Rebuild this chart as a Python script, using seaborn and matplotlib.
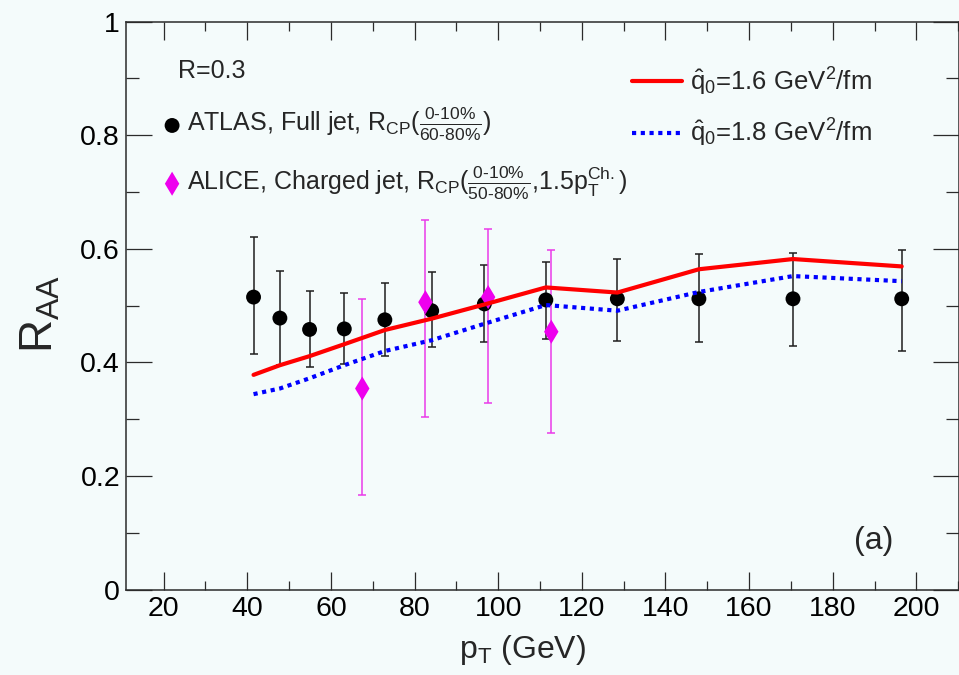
import numpy as np
import pandas as pd
import matplotlib
matplotlib.use('Agg')
import matplotlib.pyplot as plt
from matplotlib.ticker import MultipleLocator
import seaborn as sns

# ---------------- data ----------------
atlas_pt = [41.5, 47.8, 54.9, 63.2, 72.9, 84.1, 96.7, 111.4, 128.5, 148.0, 170.5, 196.5]
atlas_raa = [0.515, 0.478, 0.458, 0.459, 0.475, 0.491, 0.503, 0.510, 0.512, 0.512, 0.512, 0.512]
atlas_hi = [0.620, 0.561, 0.526, 0.522, 0.539, 0.560, 0.571, 0.576, 0.582, 0.590, 0.593, 0.598]
atlas_lo = [0.415, 0.395, 0.392, 0.398, 0.412, 0.427, 0.436, 0.441, 0.438, 0.436, 0.429, 0.420]

alice_pt = [67.5, 82.6, 97.6, 112.7]
alice_raa = [0.354, 0.506, 0.515, 0.454]
alice_hi = [0.512, 0.650, 0.635, 0.598]
alice_lo = [0.166, 0.303, 0.329, 0.276]

model_pt = [41.5, 47.8, 54.9, 63.2, 72.9, 84.1, 96.7, 111.4, 128.5, 148.0, 170.5, 196.5]
model_q16 = [0.378, 0.395, 0.411, 0.432, 0.457, 0.477, 0.502, 0.532, 0.523, 0.564, 0.582, 0.569]
model_q18 = [0.344, 0.354, 0.372, 0.395, 0.420, 0.439, 0.468, 0.501, 0.491, 0.524, 0.552, 0.543]

x_ticks = [20, 40, 60, 80, 100, 120, 140, 160, 180, 200]
y_ticks = [0, 0.2, 0.4, 0.6, 0.8, 1]
y_ticklabels = ['0', '0.2', '0.4', '0.6', '0.8', '1']

label_atlas = r'ATLAS, Full jet, R$_{\mathrm{CP}}$($\frac{\mathrm{0\text{-}10\%}}{\mathrm{60\text{-}80\%}}$)'
label_alice = (r'ALICE, Charged jet, R$_{\mathrm{CP}}$($\frac{\mathrm{0\text{-}10\%}}{\mathrm{50\text{-}80\%}}$'
               r',1.5p$_{\mathrm{T}}^{\mathrm{Ch.}}$)')
label_q16 = r'$\hat{\mathrm{q}}_{0}$=1.6 GeV$^{2}$/fm'
label_q18 = r'$\hat{\mathrm{q}}_{0}$=1.8 GeV$^{2}$/fm'

# ---------------- style ----------------
sns.set_theme(style='ticks')
plt.rcParams['font.family'] = ['Liberation Sans', 'DejaVu Sans']
plt.rcParams['mathtext.fontset'] = 'custom'
plt.rcParams['mathtext.rm'] = 'Liberation Sans'
plt.rcParams['mathtext.it'] = 'Liberation Sans:italic'
plt.rcParams['mathtext.bf'] = 'Liberation Sans:bold'
plt.rcParams['mathtext.sf'] = 'Liberation Sans'

bg = '#f4fbfb'
axc = '#2b2b2b'
fig = plt.figure(figsize=(9.59, 6.75), dpi=100, facecolor=bg)
ax = fig.add_axes([126 / 959, (675 - 589.5) / 675, (959 - 126) / 959, (589.5 - 21.7) / 675])
ax.set_facecolor(bg)

# error bars
ax.errorbar(atlas_pt, atlas_raa,
            yerr=[np.subtract(atlas_raa, atlas_lo), np.subtract(atlas_hi, atlas_raa)],
            fmt='none', ecolor='#1e1e1e', elinewidth=1.1, capsize=2.8, capthick=1.1, zorder=2)
ax.errorbar(alice_pt, alice_raa,
            yerr=[np.subtract(alice_raa, alice_lo), np.subtract(alice_hi, alice_raa)],
            fmt='none', ecolor='#ea3aea', elinewidth=1.1, capsize=2.8, capthick=1.1, zorder=2)

# points
sns.scatterplot(x=atlas_pt, y=atlas_raa, ax=ax, color='black', marker='o', s=115,
                edgecolor='none', linewidth=0, zorder=3, legend=False)
h_atlas = ax.collections[-1]
sns.scatterplot(x=alice_pt, y=alice_raa, ax=ax, color='#ee00ee', marker='d', s=150,
                edgecolor='none', linewidth=0, zorder=4, legend=False)
h_alice = ax.collections[-1]

# model curves
sns.lineplot(x=model_pt, y=model_q16, ax=ax, color='#ff0000', lw=3.0, zorder=5, legend=False)
h_q16 = ax.lines[-1]
sns.lineplot(x=model_pt, y=model_q18, ax=ax, color='#0000ff', lw=3.0, zorder=5, legend=False,
             linestyle=(0, (1.0, 1.1)))
h_q18 = ax.lines[-1]
h_q18.set_dash_capstyle('butt')

# axes
ax.set_xlim(11, 210.2)
ax.set_ylim(0, 1)
ax.set_xticks(x_ticks)
ax.set_xticklabels([str(v) for v in x_ticks])
ax.set_yticks(y_ticks)
ax.set_yticklabels(y_ticklabels)
ax.xaxis.set_minor_locator(MultipleLocator(10))
ax.yaxis.set_minor_locator(MultipleLocator(0.1))
for s in ax.spines.values():
    s.set_visible(True)
    s.set_color(axc)
    s.set_linewidth(1.1)
ax.tick_params(axis='both', which='both', direction='in', top=True, right=True,
               color=axc, width=0.9, labelcolor='black')
ax.tick_params(axis='x', which='major', length=13, pad=5, labelsize=20.5)
ax.tick_params(axis='x', which='minor', length=6.5)
ax.tick_params(axis='y', which='major', length=18.5, pad=4.3, labelsize=20.5)
ax.tick_params(axis='y', which='minor', length=9.5)

ax.set_xlabel(r'p$_{\mathrm{T}}$ (GeV)', fontsize=23)
ax.xaxis.label.set_va('center')
ax.xaxis.set_label_coords(0.476, -0.1066)
ax.set_ylabel(r'R$_{\mathrm{AA}}$', fontsize=33)
ax.yaxis.label.set_va('center')
ax.yaxis.set_label_coords(-0.1032, 0.485)

ax.text(0.0624, 0.913, 'R=0.3', transform=ax.transAxes, fontsize=18, ha='left', va='center')
ax.text(189.8, 0.0855, '(a)', fontsize=23, ha='center', va='center')

leg1 = ax.legend(handles=[h_atlas, h_alice], labels=[label_atlas, label_alice],
                 loc='upper left', bbox_to_anchor=(0.044, 0.851), frameon=False,
                 fontsize=18, handlelength=0.755, handletextpad=0.22, borderpad=0,
                 borderaxespad=0, labelspacing=0.85, scatterpoints=1)
ax.add_artist(leg1)
leg2 = ax.legend(handles=[h_q16, h_q18], labels=[label_q16, label_q18],
                 loc='upper left', bbox_to_anchor=(0.607, 0.923), frameon=False,
                 fontsize=18.5, handlelength=1.95, handletextpad=0.32, borderpad=0,
                 borderaxespad=0, labelspacing=0.75)

fig.savefig('out.png', dpi=100, facecolor=bg)
